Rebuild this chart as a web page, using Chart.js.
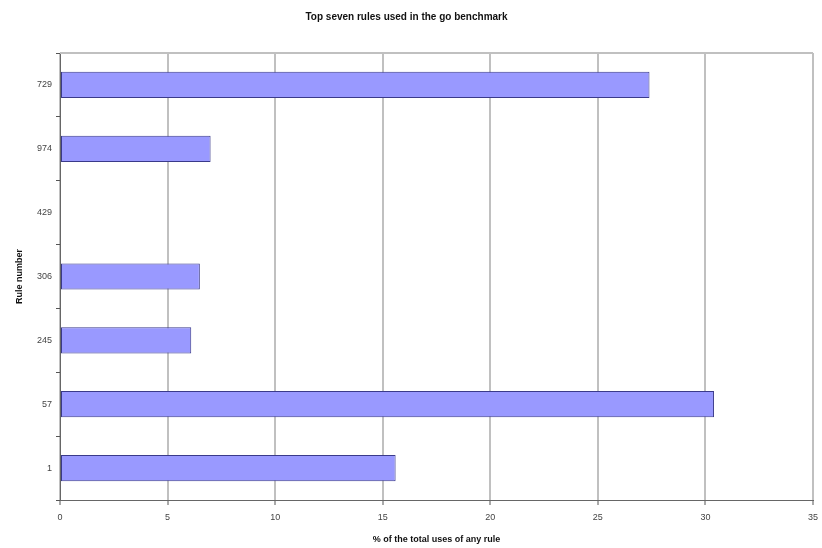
<!DOCTYPE html>
<html lang="en">
  <head>
    <meta charset="UTF-8">
    <title>Top seven rules</title>
    <script src="https://cdn.jsdelivr.net/npm/chart.js"></script>
    <style>
      html, body { margin: 0; padding: 0; background: #fff; }
      #wrap { width: 822px; height: 548px; }
    </style>
  </head>
  <body>
  <div id="wrap"><canvas id="chart"></canvas></div>
  <script>

// rule numbers, top to bottom
const rules = ['729', '974', '429', '306', '245', '57', '1'];
// % of the total uses of any rule
const usage = [27.4, 7.0, 0, 6.5, 6.1, 30.4, 15.6];
const xTicks = [0, 5, 10, 15, 20, 25, 30, 35];

const font = 'Liberation Sans, Arial, sans-serif';

// thin grey line along the top of the plot area
const topBorder = {
  id: 'topBorder',
  afterDraw(chart) {
    const {ctx, chartArea} = chart;
    ctx.save();
    ctx.strokeStyle = '#c0c0c0';
    ctx.lineWidth = 2;
    ctx.beginPath();
    ctx.moveTo(chartArea.left, chartArea.top);
    ctx.lineTo(chartArea.right, chartArea.top);
    ctx.stroke();
    ctx.restore();
  }
};

new Chart(document.getElementById('chart'), {
  type: 'bar',
  data: {
    labels: rules,
    datasets: [{
      data: usage,
      backgroundColor: '#9999ff',
      borderColor: '#3a3a8a',
      borderWidth: 1,
      borderSkipped: false,
      categoryPercentage: 1,
      barPercentage: 0.41
    }]
  },
  options: {
    indexAxis: 'y',
    responsive: true,
    maintainAspectRatio: false,
    animation: false,
    layout: { padding: { left: 0, right: 9, top: 0, bottom: 0 } },
    plugins: {
      legend: { display: false },
      tooltip: { enabled: false },
      title: {
        display: true,
        text: 'Top seven rules used in the go benchmark',
        color: '#111',
        font: { family: font, size: 10, weight: 'bold' },
        padding: { top: 11, bottom: 30 }
      }
    },
    scales: {
      x: {
        min: 0,
        max: 35,
        afterFit: s => { s.height = 48; s.paddingRight = 0; s.paddingLeft = 0; },
        afterBuildTicks: s => { s.ticks = xTicks.map(v => ({ value: v })); },
        grid: {
          color: '#c0c0c0',
          lineWidth: 2,
          tickColor: '#555',
          tickLength: 5,
          tickWidth: 1
        },
        border: { display: true, color: '#666', width: 1 },
        ticks: {
          color: '#444',
          font: { family: font, size: 9 },
          padding: 7,
          maxRotation: 0
        },
        title: {
          display: true,
          text: '% of the total uses of any rule',
          color: '#111',
          font: { family: font, size: 9, weight: 'bold' },
          padding: { top: 0, bottom: 3 }
        }
      },
      y: {
        afterFit: s => { s.width = 60; },
        grid: {
          offset: true,
          drawOnChartArea: false,
          drawTicks: true,
          tickLength: 4,
          tickColor: '#555'
        },
        border: { display: true, color: '#666', width: 1 },
        ticks: {
          color: '#444',
          font: { family: font, size: 9 },
          padding: 4
        },
        title: {
          display: true,
          text: 'Rule number',
          color: '#111',
          font: { family: font, size: 9, weight: 'bold' },
          padding: { top: 14, bottom: 0 }
        }
      }
    }
  },
  plugins: [topBorder]
});

</script>
  </body>
</html>
